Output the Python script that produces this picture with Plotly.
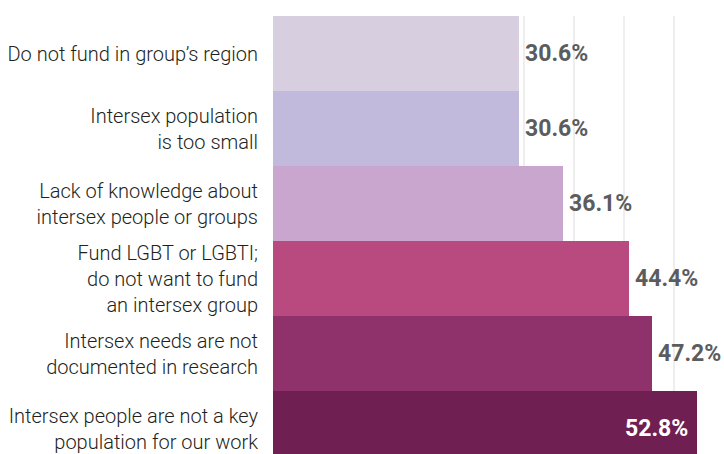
import plotly.graph_objects as go

categories = [
    "Do not fund in group’s region",
    "Intersex population<br>is too small",
    "Lack of knowledge about<br>intersex people or groups",
    "Fund LGBT or LGBTI;<br>do not want to fund<br>an intersex group",
    "Intersex needs are not<br>documented in research",
    "Intersex people are not a key<br>population for our work",
]
values = [30.6, 30.6, 36.1, 44.4, 47.2, 52.8]
value_labels = ["30.6%", "30.6%", "36.1%", "44.4%", "47.2%", "52.8%"]
colors = ["#d7cee0", "#c1badc", "#c9a6cd", "#b84a7f", "#8f316b", "#701f52"]

pos = list(range(len(categories)))

fig = go.Figure()
fig.add_trace(go.Bar(
    x=values, y=pos, orientation="h",
    marker=dict(color=colors, line=dict(width=0)),
    width=1.0, hoverinfo="skip",
))

vmax = max(values)
for p, v, lab in zip(pos, values, value_labels):
    inside = (v == vmax)
    fig.add_annotation(
        x=v, y=p, text=lab, showarrow=False,
        xanchor="right" if inside else "left",
        xshift=-8 if inside else 5,
        yanchor="middle", borderpad=0,
        font=dict(family="Roboto, sans-serif",
                  size=23, color="#ffffff" if inside else "#5b5c5e", weight="bold"),
    )

fig.update_layout(
    width=724, height=454,
    margin=dict(l=273, r=0, t=16, b=0, pad=0),
    paper_bgcolor="white", plot_bgcolor="white",
    showlegend=False, bargap=0,
    xaxis=dict(range=[0, 56.2], dtick=6.25, tick0=0, showgrid=True,
               gridcolor="#eeeeee", gridwidth=1.5, zeroline=False,
               showticklabels=False, showline=False, fixedrange=True,
               automargin=False),
    yaxis=dict(range=[5.34, -0.5], tickmode="array", tickvals=pos,
               ticktext=categories, showgrid=False, zeroline=False,
               showline=False, ticks="", ticklabelstandoff=14,
               automargin=False, fixedrange=True,
               tickfont=dict(family="Roboto, Lato, sans-serif", size=20,
                             color="#231f20", weight=300)),
)

fig.write_html("out.html", config={"displayModeBar": False},
               post_script="document.body.style.margin='0';document.body.style.overflow='hidden';")
